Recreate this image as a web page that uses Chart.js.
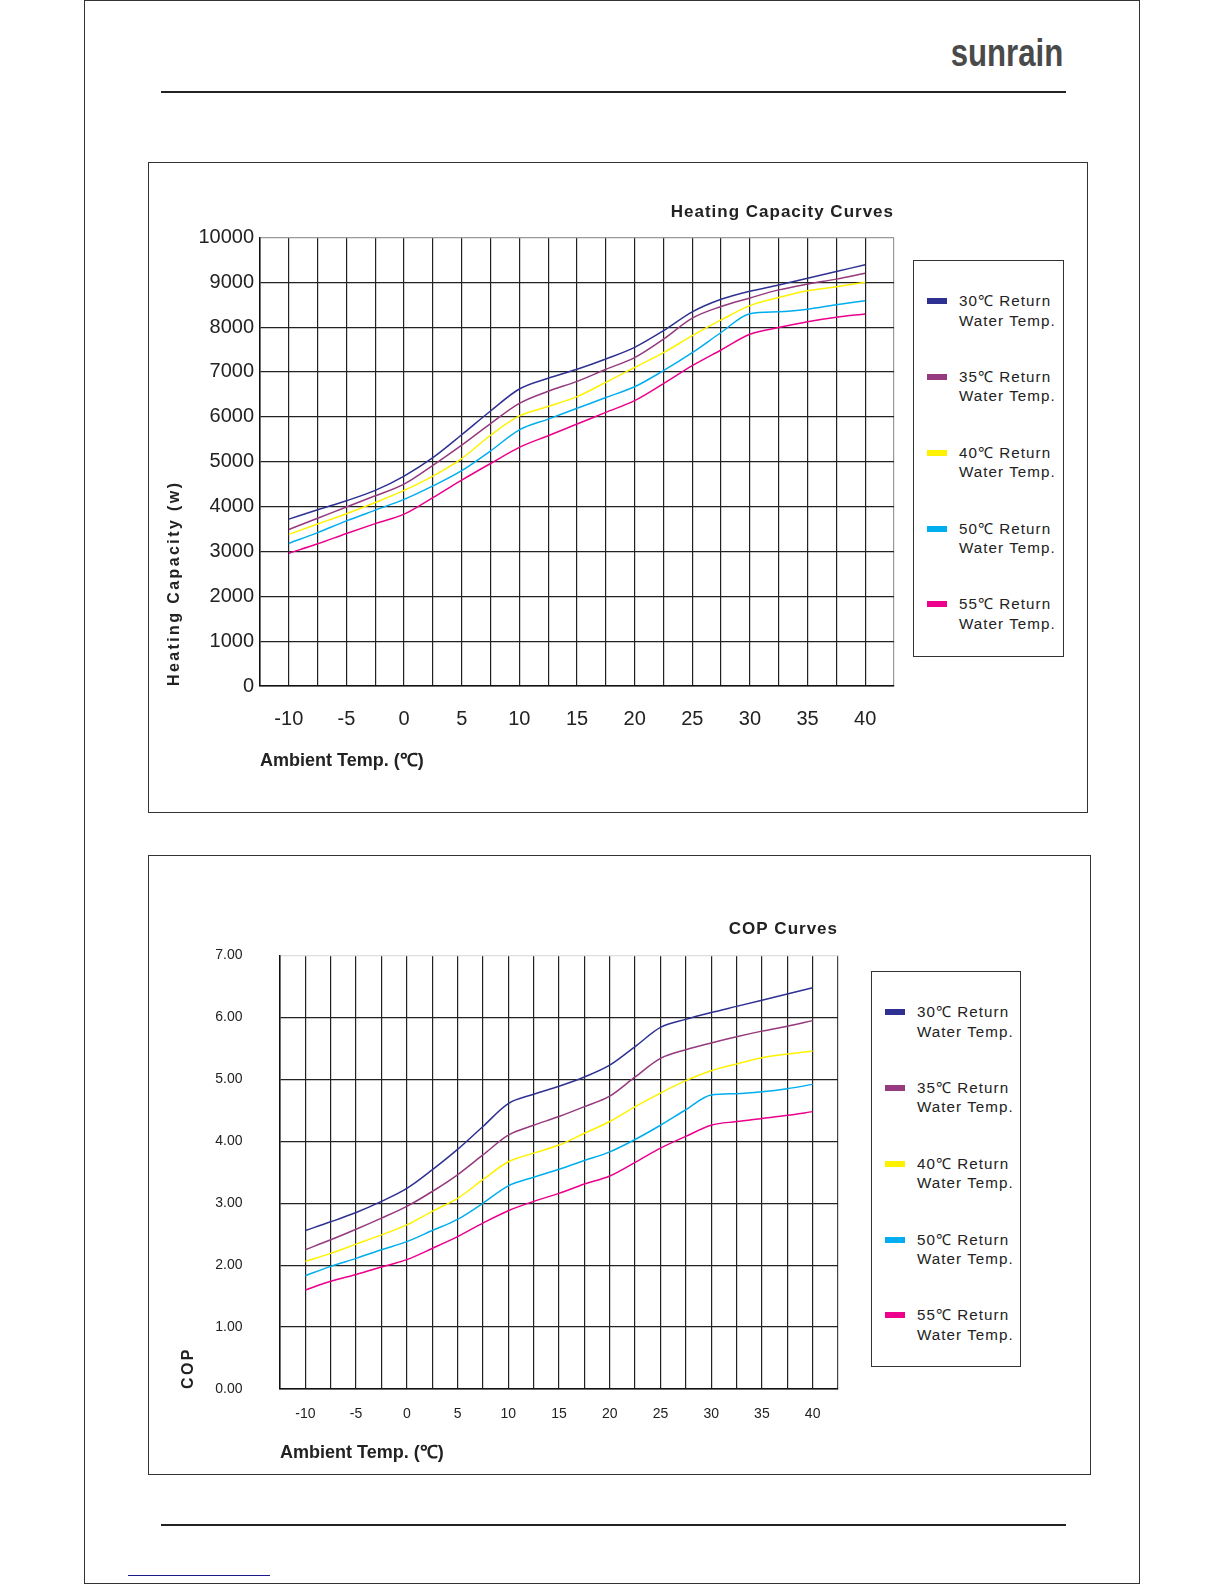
<!DOCTYPE html>
<html>
<head>
<meta charset="utf-8">
<script src="https://cdn.jsdelivr.net/npm/chart.js@4.4.1/dist/chart.umd.min.js"></script>
<style>
  body { margin: 0; background: #fff; }
  #page { position: relative; width: 1224px; height: 1584px; overflow: hidden;
          font-family: "Liberation Sans", Arial, sans-serif; color: #222; }
  .box { position: absolute; border: 1px solid #333; box-sizing: border-box; }
  .rule { position: absolute; background: #222; }
  canvas { position: absolute; }
  .item { position: absolute; font-size: 15.2px; line-height: 19.2px; letter-spacing: 1.05px; white-space: nowrap; }
  .swatch { position: absolute; width: 20px; height: 6px; }
  #logo { position: absolute; right: 161px; top: 34px; font-weight: bold; font-size: 38px; line-height: 1;
          color: #4a4a4a; transform: scaleX(0.82); transform-origin: right center; }
</style>
</head>
<body>
<div id="page">
  <div class="box" style="left:84px;top:0;width:1056px;height:1584px;border-width:1.5px;"></div>
  <div id="logo">sunrain</div>
  <div class="rule" style="left:161px;top:91px;width:905px;height:2px;"></div>
  <div class="rule" style="left:161px;top:1524px;width:905px;height:1.5px;"></div>
  <div class="rule" style="left:128px;top:1575px;width:142px;height:1px;background:#1a1a8c;"></div>

  <div class="box" style="left:148px;top:162px;width:940px;height:651px;"></div>
  <canvas id="capChart" width="743" height="590" style="left:161px;top:196px;"></canvas>
  <div class="box" id="capLegend" style="left:913px;top:260px;width:151px;height:397px;"></div>

  <div class="box" style="left:148px;top:855px;width:943px;height:620px;"></div>
  <canvas id="copChart" width="676" height="571" style="left:172px;top:903px;"></canvas>
  <div class="box" id="copLegend" style="left:871px;top:971px;width:150px;height:396px;"></div>
</div>
<script>
const ambient = [-10, -7.5, -5, -2.5, 0, 2.5, 5, 7.5, 10, 12.5, 15, 17.5, 20, 22.5, 25, 27.5, 30, 32.5, 35, 37.5, 40];
const xTickLabels = [-10, -5, 0, 5, 10, 15, 20, 25, 30, 35, 40];

const seriesNames = [
    ["30℃ Return", "Water Temp."],
    ["35℃ Return", "Water Temp."],
    ["40℃ Return", "Water Temp."],
    ["50℃ Return", "Water Temp."],
    ["55℃ Return", "Water Temp."]
];
const seriesColors = ["#2e3192", "#953a7e", "#fff200", "#00aeef", "#ec008c"];

// heating capacity (w)
const cap30 = [3720, 3930, 4130, 4360, 4680, 5090, 5600, 6130, 6620, 6860, 7060, 7290, 7550, 7920, 8340, 8620, 8800, 8940, 9090, 9240, 9390];
const cap35 = [3490, 3740, 3990, 4240, 4500, 4920, 5370, 5850, 6300, 6570, 6790, 7060, 7320, 7730, 8200, 8460, 8650, 8830, 8960, 9070, 9200];
const cap40 = [3380, 3610, 3840, 4090, 4360, 4680, 5070, 5590, 6020, 6230, 6450, 6770, 7100, 7430, 7810, 8160, 8480, 8660, 8810, 8900, 9000];
const cap50 = [3180, 3420, 3680, 3920, 4160, 4460, 4800, 5240, 5710, 5950, 6190, 6430, 6670, 7030, 7430, 7880, 8300, 8340, 8400, 8500, 8590];
const cap55 = [2960, 3170, 3400, 3620, 3830, 4200, 4590, 4960, 5320, 5580, 5840, 6100, 6360, 6740, 7140, 7490, 7840, 7990, 8120, 8220, 8290];

// COP
const cop30 = [2.56, 2.70, 2.85, 3.03, 3.24, 3.54, 3.87, 4.24, 4.61, 4.76, 4.89, 5.04, 5.23, 5.53, 5.84, 5.97, 6.08, 6.18, 6.28, 6.38, 6.48];
const cop35 = [2.25, 2.41, 2.58, 2.76, 2.95, 3.19, 3.46, 3.78, 4.10, 4.26, 4.40, 4.56, 4.73, 5.04, 5.34, 5.48, 5.59, 5.69, 5.78, 5.86, 5.95];
const cop40 = [2.06, 2.19, 2.34, 2.49, 2.65, 2.87, 3.08, 3.38, 3.67, 3.81, 3.94, 4.13, 4.32, 4.56, 4.78, 4.98, 5.14, 5.25, 5.35, 5.41, 5.46];
const cop50 = [1.83, 1.98, 2.11, 2.25, 2.38, 2.56, 2.74, 3.00, 3.28, 3.42, 3.55, 3.69, 3.83, 4.03, 4.26, 4.51, 4.75, 4.77, 4.80, 4.85, 4.92];
const cop55 = [1.60, 1.74, 1.85, 1.97, 2.09, 2.27, 2.46, 2.68, 2.88, 3.03, 3.16, 3.31, 3.44, 3.66, 3.89, 4.08, 4.26, 4.32, 4.37, 4.42, 4.48];

Chart.defaults.color = "#222";
Chart.defaults.font.family = "'Liberation Sans', Arial, sans-serif";

// canvas has no letter-spacing option, so wrap the title drawing
const spacing = {
    id: "spacing",
    afterLayout(chart) {
        const wrap = (obj, fn, px) => {
            if (!obj || obj._spaced) return;
            const orig = obj[fn];
            obj[fn] = function (...args) {
                const c = chart.ctx;
                c.save();
                c.letterSpacing = px;
                orig.apply(this, args);
                c.restore();
            };
            obj._spaced = true;
        };
        wrap(chart.titleBlock, "draw", "1px");
        wrap(chart.scales.y, "drawTitle", "2.4px");
    }
};

function buildLegend(id) {
    const el = document.getElementById(id);
    seriesNames.forEach((name, i) => {
        const top = 30.4 + i * 75.75;
        el.innerHTML += '<div class="swatch" style="left:13px;top:' + (top + 7) + 'px;background:' + seriesColors[i] + '"></div>' +
            '<div class="item" style="left:45px;top:' + top + 'px">' + name[0] + '<br>' + name[1] + '</div>';
    });
}

function makeChart(id, cfg) {
    return new Chart(id, {
        type: "line",
        data: {
            datasets: cfg.series.map((s, i) => ({
                label: seriesNames[i].join(" "),
                data: ambient.map((x, j) => ({ x: x, y: s[j] })),
                borderColor: seriesColors[i],
                borderWidth: 1.5,
                pointRadius: 0,
                cubicInterpolationMode: "monotone",
                tension: 0.3
            }))
        },
        options: {
            responsive: false,
            animation: false,
            layout: { padding: { left: 0, right: 10, top: 0, bottom: 0 } },
            plugins: {
                legend: { display: false },
                tooltip: { enabled: false },
                title: {
                    display: true,
                    text: cfg.title,
                    align: "end",
                    color: "#222",
                    font: { size: 17, weight: "bold" },
                    padding: cfg.titlePad
                }
            },
            scales: {
                x: {
                    type: "linear",
                    min: -12.5,
                    max: 42.5,
                    // end ticks have no label, so no side padding is wanted
                    afterFit: s => { s.height = cfg.xHeight; s.paddingLeft = 0; s.paddingRight = 0; },
                    ticks: {
                        stepSize: 2.5,
                        autoSkip: false,
                        maxRotation: 0,
                        padding: cfg.xTickPad,
                        font: { size: cfg.tickSize },
                        callback: v => xTickLabels.includes(v) ? String(v) : ""
                    },
                    grid: {
                        drawTicks: false,
                        lineWidth: 1.2,
                        color: c => c.tick && c.tick.value === 42.5 ? cfg.rightColor : "#222"
                    },
                    border: { color: "#111", width: 1.5 },
                    title: {
                        display: true,
                        text: "Ambient Temp. (℃)",
                        align: "start",
                        color: "#222",
                        font: { size: 18, weight: "bold" },
                        padding: { top: 0, bottom: cfg.xTitlePad }
                    }
                },
                y: {
                    min: 0,
                    max: cfg.yMax,
                    afterFit: s => { s.width = cfg.yWidth; },
                    ticks: {
                        stepSize: cfg.yStep,
                        padding: cfg.yTickPad,
                        font: { size: cfg.tickSize },
                        callback: cfg.yFormat
                    },
                    grid: {
                        drawTicks: false,
                        lineWidth: 1.2,
                        color: c => c.tick && c.tick.value === cfg.yMax ? cfg.topColor : "#222"
                    },
                    border: { color: "#111", width: 1.5 },
                    title: {
                        display: true,
                        text: cfg.yTitle,
                        align: "start",
                        color: "#222",
                        font: { size: 16, weight: "bold" },
                        padding: { top: cfg.yTitlePad, bottom: 0 }
                    }
                }
            }
        },
        plugins: [spacing]
    });
}

makeChart("capChart", {
    series: [cap30, cap35, cap40, cap50, cap55],
    title: "Heating Capacity Curves",
    titlePad: { top: 5.8, bottom: 15.2 },
    yTitle: "Heating Capacity (w)",
    yMax: 10000,
    yStep: 1000,
    yFormat: v => String(v),
    yWidth: 99,
    yTickPad: 6,
    yTitlePad: 4,
    xHeight: 100,
    xTickPad: 21,
    xTitlePad: 14.6,
    tickSize: 20,
    topColor: "#999",
    rightColor: "#999"
});

makeChart("copChart", {
    series: [cop30, cop35, cop40, cop50, cop55],
    title: "COP Curves",
    titlePad: { top: 16.1, bottom: 16.1 },
    yTitle: "COP",
    yMax: 7,
    yStep: 1,
    yFormat: v => v.toFixed(2),
    yWidth: 108,
    yTickPad: 37.5,
    yTitlePad: 7.4,
    xHeight: 85,
    xTickPad: 17,
    xTitlePad: 10,
    tickSize: 14,
    topColor: "#ddd",
    rightColor: "#444"
});

buildLegend("capLegend");
buildLegend("copLegend");
</script>
</body>
</html>
